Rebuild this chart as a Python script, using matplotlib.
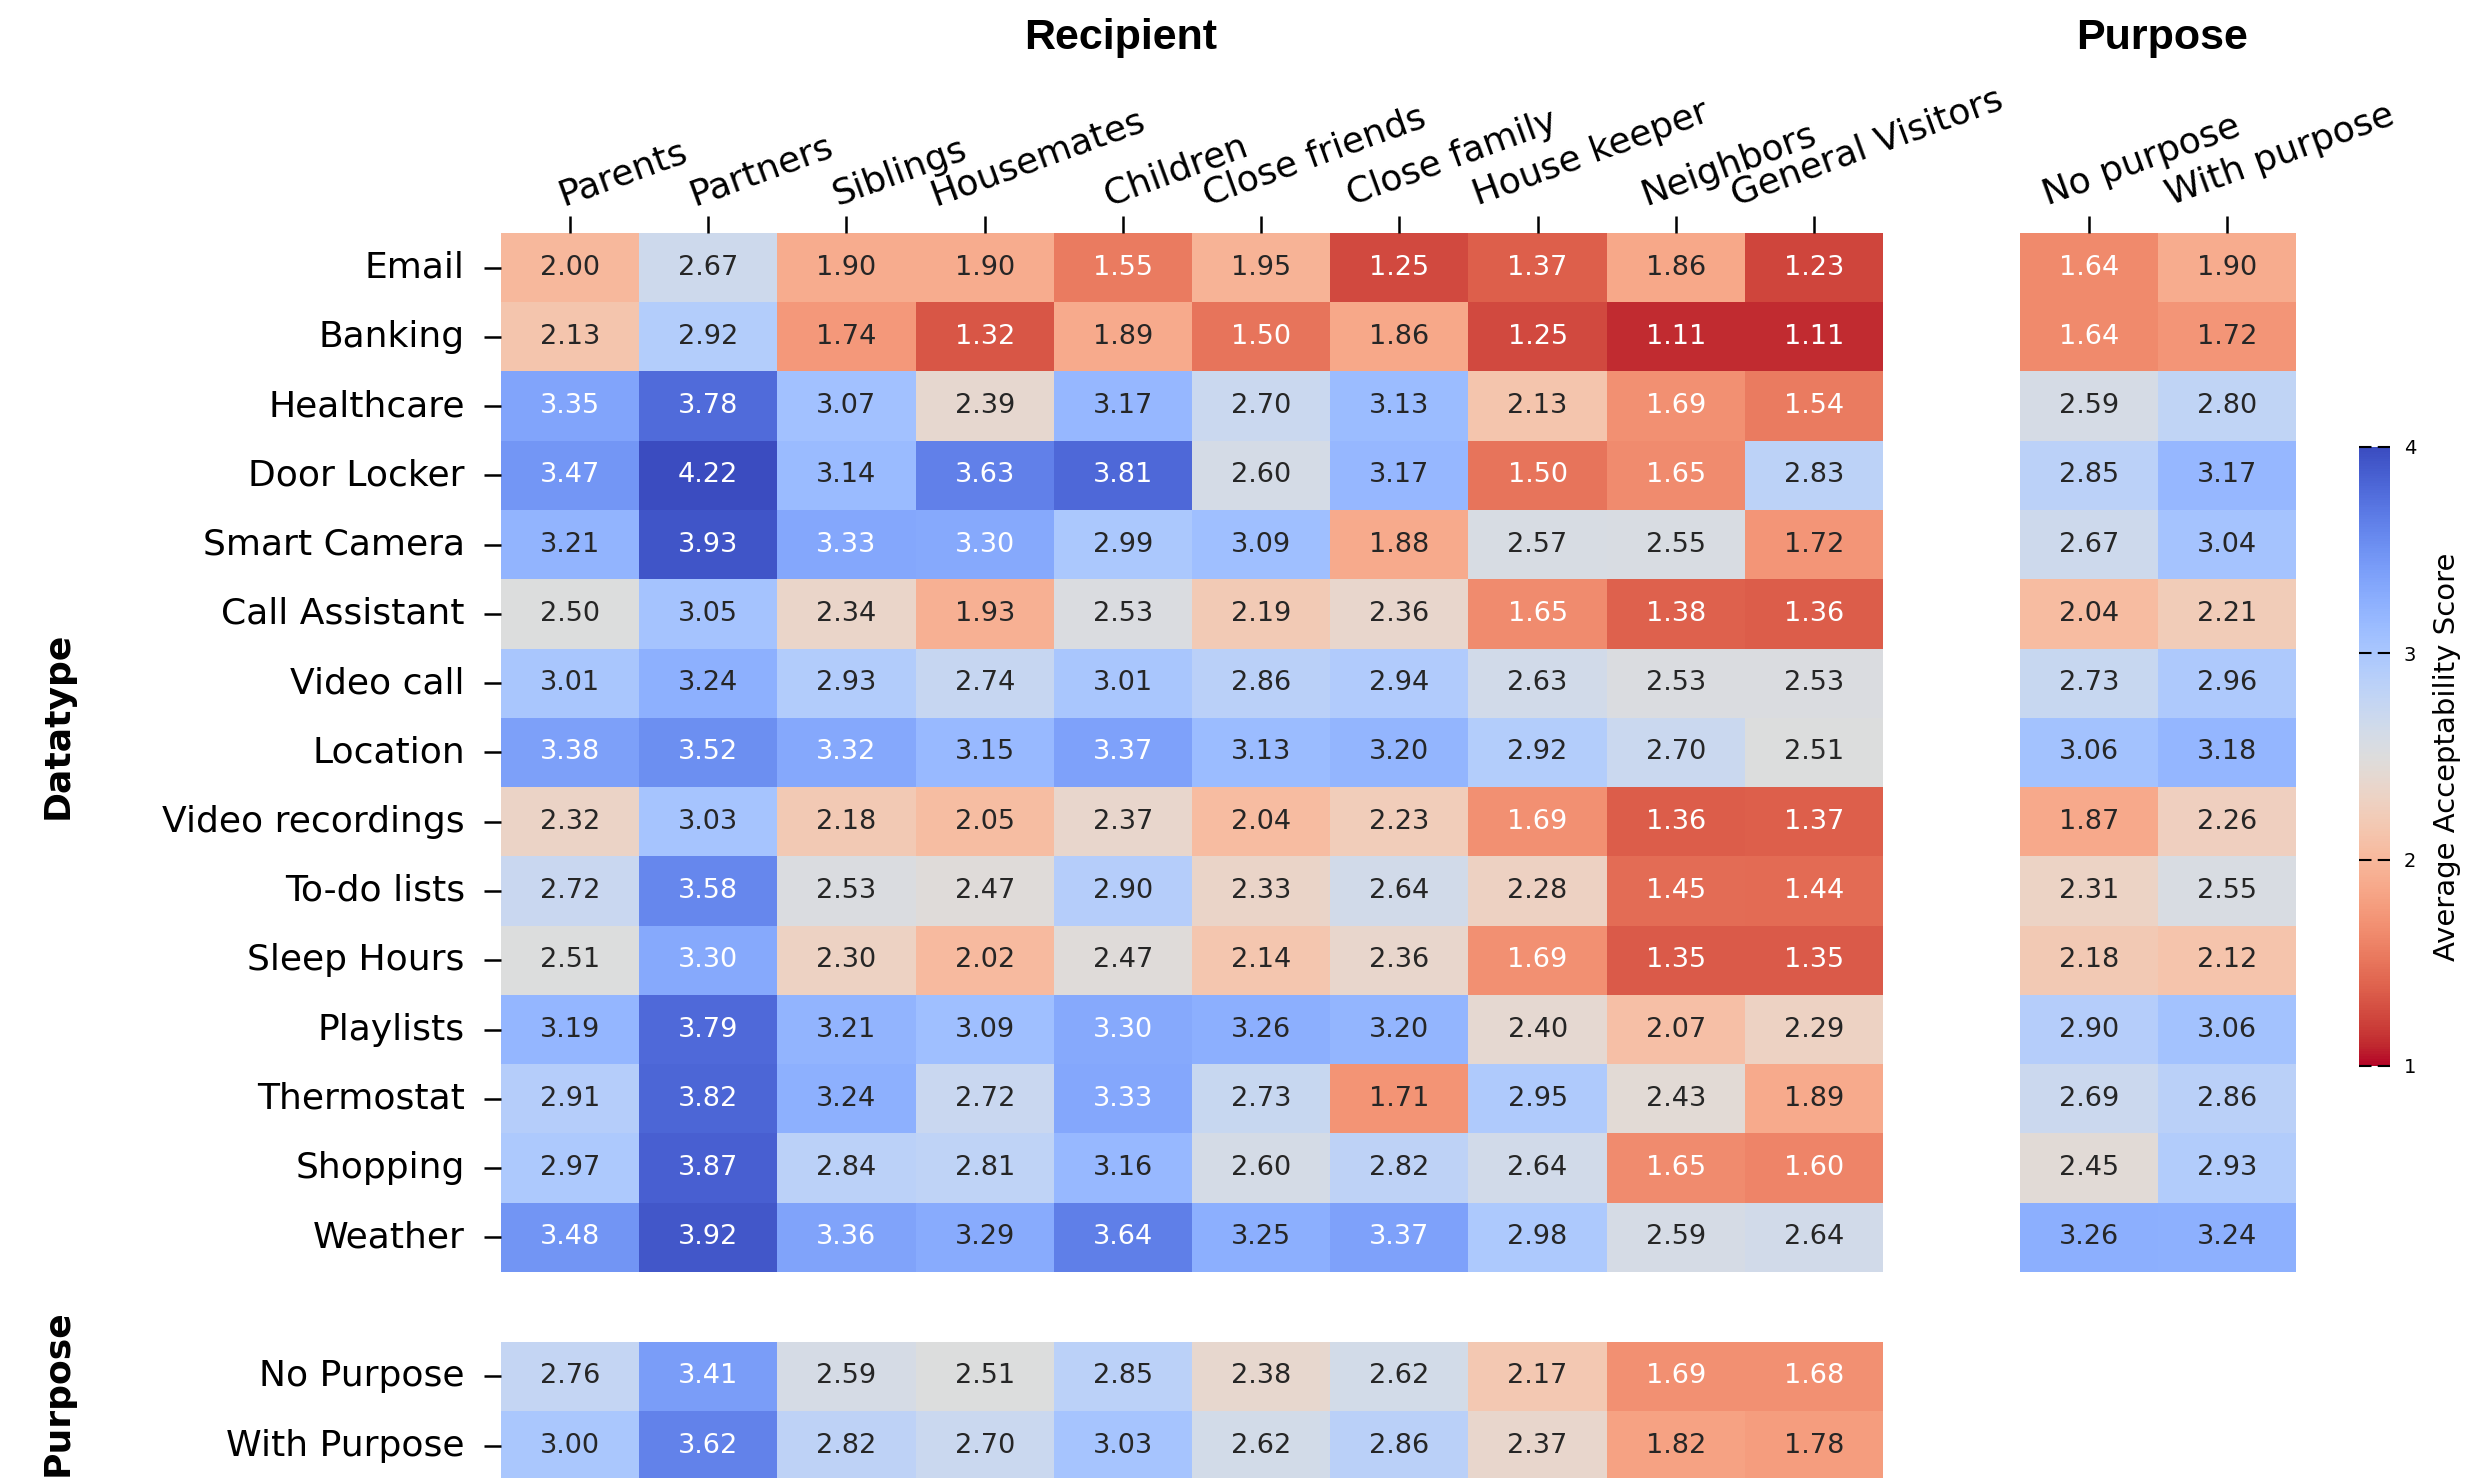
import numpy as np
import pandas as pd
import matplotlib
matplotlib.use("Agg")
import matplotlib.pyplot as plt
import matplotlib.transforms as mtransforms
import seaborn as sns

datatypes = ["Email", "Banking", "Healthcare", "Door Locker", "Smart Camera",
             "Call Assistant", "Video call", "Location", "Video recordings",
             "To-do lists", "Sleep Hours", "Playlists", "Thermostat",
             "Shopping", "Weather"]
recipients = ["Parents", "Partners", "Siblings", "Housemates", "Children",
              "Close friends", "Close family", "House keeper", "Neighbors",
              "General Visitors"]
purpose_cols = ["No purpose", "With purpose"]
purpose_rows = ["No Purpose", "With Purpose"]

recipient_scores = [
    [2.00, 2.67, 1.90, 1.90, 1.55, 1.95, 1.25, 1.37, 1.86, 1.23],
    [2.13, 2.92, 1.74, 1.32, 1.89, 1.50, 1.86, 1.25, 1.11, 1.11],
    [3.35, 3.78, 3.07, 2.39, 3.17, 2.70, 3.13, 2.13, 1.69, 1.54],
    [3.47, 4.22, 3.14, 3.63, 3.81, 2.60, 3.17, 1.50, 1.65, 2.83],
    [3.21, 3.93, 3.33, 3.30, 2.99, 3.09, 1.88, 2.57, 2.55, 1.72],
    [2.50, 3.05, 2.34, 1.93, 2.53, 2.19, 2.36, 1.65, 1.38, 1.36],
    [3.01, 3.24, 2.93, 2.74, 3.01, 2.86, 2.94, 2.63, 2.53, 2.53],
    [3.38, 3.52, 3.32, 3.15, 3.37, 3.13, 3.20, 2.92, 2.70, 2.51],
    [2.32, 3.03, 2.18, 2.05, 2.37, 2.04, 2.23, 1.69, 1.36, 1.37],
    [2.72, 3.58, 2.53, 2.47, 2.90, 2.33, 2.64, 2.28, 1.45, 1.44],
    [2.51, 3.30, 2.30, 2.02, 2.47, 2.14, 2.36, 1.69, 1.35, 1.35],
    [3.19, 3.79, 3.21, 3.09, 3.30, 3.26, 3.20, 2.40, 2.07, 2.29],
    [2.91, 3.82, 3.24, 2.72, 3.33, 2.73, 1.71, 2.95, 2.43, 1.89],
    [2.97, 3.87, 2.84, 2.81, 3.16, 2.60, 2.82, 2.64, 1.65, 1.60],
    [3.48, 3.92, 3.36, 3.29, 3.64, 3.25, 3.37, 2.98, 2.59, 2.64],
]

datatype_purpose = [
    [1.64, 1.90], [1.64, 1.72], [2.59, 2.80], [2.85, 3.17], [2.67, 3.04],
    [2.04, 2.21], [2.73, 2.96], [3.06, 3.18], [1.87, 2.26], [2.31, 2.55],
    [2.18, 2.12], [2.90, 3.06], [2.69, 2.86], [2.45, 2.93], [3.26, 3.24],
]

recipient_purpose = [
    [2.76, 3.41, 2.59, 2.51, 2.85, 2.38, 2.62, 2.17, 1.69, 1.68],
    [3.00, 3.62, 2.82, 2.70, 3.03, 2.62, 2.86, 2.37, 1.82, 1.78],
]

df_main = pd.DataFrame(recipient_scores, index=datatypes, columns=recipients)
df_right = pd.DataFrame(datatype_purpose, index=datatypes, columns=purpose_cols)
df_bottom = pd.DataFrame(recipient_purpose, index=purpose_rows, columns=recipients)

cmap = "coolwarm_r"
vmin, vmax = 1, 4
annot_kw = {"size": 19.5}

fig = plt.figure(figsize=(24.69, 14.78), dpi=100)
ax_main = fig.add_axes([0.2029, 0.1394, 0.5598, 0.7030])
ax_right = fig.add_axes([0.8181, 0.1394, 0.1118, 0.7030])
ax_bottom = fig.add_axes([0.2029, -0.0016, 0.5598, 0.0937])
cax = fig.add_axes([0.9553, 0.2788, 0.0127, 0.4188])

sns.heatmap(df_main, ax=ax_main, cmap=cmap, vmin=vmin, vmax=vmax, annot=True,
            fmt=".2f", annot_kws=annot_kw, cbar=False)
sns.heatmap(df_right, ax=ax_right, cmap=cmap, vmin=vmin, vmax=vmax, annot=True,
            fmt=".2f", annot_kws=annot_kw, cbar=False, yticklabels=False)
sns.heatmap(df_bottom, ax=ax_bottom, cmap=cmap, vmin=vmin, vmax=vmax, annot=True,
            fmt=".2f", annot_kws=annot_kw, cbar=False, xticklabels=False)

# column labels on top, tilted and nudged to the right of their ticks
shift = mtransforms.ScaledTranslation(0.53, 0, fig.dpi_scale_trans)
for ax in (ax_main, ax_right):
    ax.xaxis.tick_top()
    ax.tick_params(axis="x", length=12, width=1.8, pad=3)
    ax.set_xticklabels(ax.get_xticklabels(), rotation=20, ha="center",
                       va="bottom", fontsize=26)
    for lbl in ax.get_xticklabels():
        lbl.set_transform(lbl.get_transform() + shift)
    ax.set_xlabel("")
    ax.set_ylabel("")
ax_right.tick_params(axis="y", left=False)

for ax in (ax_main, ax_bottom):
    ax.tick_params(axis="y", length=12, width=1.8, pad=14)
    ax.set_yticklabels(ax.get_yticklabels(), rotation=0, fontsize=26)
    ax.set_ylabel("")
ax_bottom.tick_params(axis="x", bottom=False)

# colorbar
sm = plt.cm.ScalarMappable(cmap=cmap, norm=plt.Normalize(vmin, vmax))
cb = fig.colorbar(sm, cax=cax)
cb.outline.set_visible(False)
cb.set_ticks([1, 2, 3, 4])
cax.tick_params(length=0, labelsize=14, pad=10)
for v in [1, 2, 3, 4]:
    cax.axhline(v, color="black", lw=1.5, linestyle=(0, (6, 3)), clip_on=False)
cb.set_label("Average Acceptability Score", fontsize=21, labelpad=12)

# group titles
fig.text(0.454, 0.974, "Recipient", ha="center", va="center",
         fontsize=31, fontweight="bold", family="Liberation Sans")
fig.text(0.8757, 0.974, "Purpose", ha="center", va="center",
         fontsize=31, fontweight="bold", family="Liberation Sans")
fig.text(0.0235, 0.509, "Datatype", ha="center", va="center", rotation=90,
         fontsize=26, fontweight="bold")
fig.text(0.0235, 0.058, "Purpose", ha="center", va="center", rotation=90,
         fontsize=26, fontweight="bold")

fig.savefig("out.png", dpi=100)
